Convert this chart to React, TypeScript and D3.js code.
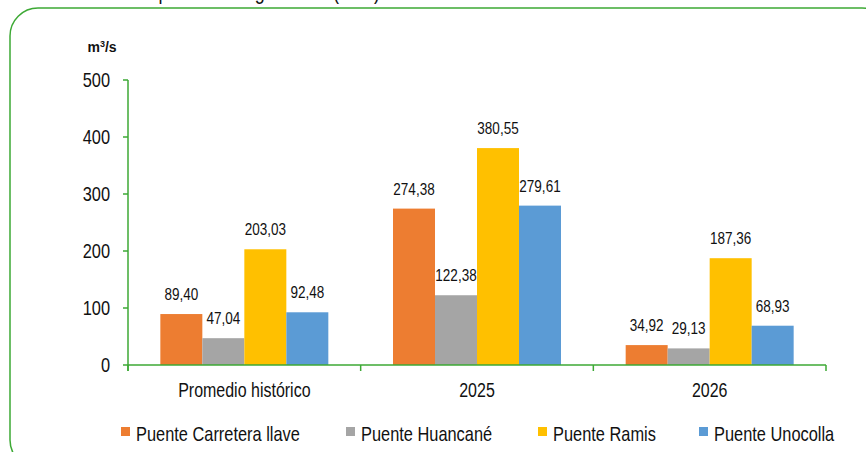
import React from 'react';
import * as d3 from 'd3';

const categories = ['Promedio histórico', '2025', '2026'];
const seriesNames = ['Puente Carretera llave', 'Puente Huancané', 'Puente Ramis', 'Puente Unocolla'];
const seriesColors = ['#ED7D31', '#A5A5A5', '#FFC000', '#5B9BD5'];
const carreteraIlave = [89.4, 274.38, 34.92];
const huancane = [47.04, 122.38, 29.13];
const ramis = [203.03, 380.55, 187.36];
const unocolla = [92.48, 279.61, 68.93];
const yTicks = [0, 100, 200, 300, 400, 500];

const values = [carreteraIlave, huancane, ramis, unocolla];

const W = 866;
const H = 452;
const green = '#3DA935';
const font = "'Liberation Sans', Arial, sans-serif";
const legendX = [121, 346, 538, 699];
const SQUEEZE = 0.82; // the reference uses a narrow face

const fmt = (v: number) => v.toFixed(2).replace('.', ',');

// narrow text: horizontal squeeze around its own anchor point
const NText: React.FC<{ x: number; y: number; size: number; anchor?: string; children: React.ReactNode }> = ({
  x,
  y,
  size,
  anchor = 'start',
  children,
}) => (
  <text
    transform={`translate(${x},${y}) scale(${SQUEEZE},1)`}
    textAnchor={anchor}
    fontSize={size}
    fill="#111"
  >
    {children}
  </text>
);

const App: React.FC = () => {
  const plot = { left: 128, right: 826, top: 80, bottom: 365 };

  const y = d3.scaleLinear().domain([0, 500]).range([plot.bottom, plot.top]);
  const x = d3.scaleBand<string>().domain(categories).range([plot.left, plot.right]).padding(0);
  const inner = d3
    .scaleBand<number>()
    .domain(d3.range(seriesNames.length))
    .range([0, x.bandwidth()])
    .paddingInner(0)
    .paddingOuter(0.77);

  const boundaries = [...categories.map(c => x(c) as number), plot.right];

  return (
    <div style={{ position: 'absolute', left: 0, top: 0 }}>
      <svg width={W} height={H} style={{ display: 'block', background: '#fff' }} fontFamily={font}>
        {/* title, mostly above the visible area as in the source */}
        <NText x={380} y={-1} size={22} anchor="end">
          Caudales promedio registrados (m³/s)
        </NText>

        {/* green frame */}
        <rect x={10} y={8} width={880} height={460} rx={28} ry={28} fill="none" stroke={green} strokeWidth={1.5} />

        <text x={102} y={52} textAnchor="middle" fontSize={14} fontWeight="bold" fill="#111">
          m<tspan dy={-5} fontSize={9}>3</tspan>
          <tspan dy={5}>/s</tspan>
        </text>

        {/* y axis */}
        <line x1={plot.left} x2={plot.left} y1={plot.top} y2={plot.bottom + 6} stroke={green} strokeWidth={1.5} />
        {yTicks.map(t => (
          <g key={t}>
            <line x1={plot.left - 5} x2={plot.left} y1={y(t)} y2={y(t)} stroke={green} strokeWidth={1.5} />
            <NText x={110} y={y(t) + 7} size={20} anchor="end">
              {t}
            </NText>
          </g>
        ))}

        {/* bars */}
        {categories.map((c, ci) =>
          values.map((s, si) => {
            const bx = (x(c) as number) + (inner(si) as number);
            const bw = inner.bandwidth();
            return (
              <g key={`${c}-${si}`}>
                <rect x={bx} y={y(s[ci])} width={bw} height={plot.bottom - y(s[ci])} fill={seriesColors[si]} />
                <NText x={bx + bw / 2} y={y(s[ci]) - 14} size={16.5} anchor="middle">
                  {fmt(s[ci])}
                </NText>
              </g>
            );
          })
        )}

        {/* x axis */}
        <line x1={plot.left} x2={plot.right} y1={plot.bottom} y2={plot.bottom} stroke={green} strokeWidth={1.5} />
        {boundaries.map((b, i) => (
          <line key={i} x1={b} x2={b} y1={plot.bottom} y2={plot.bottom + 6} stroke={green} strokeWidth={1.5} />
        ))}
        {categories.map(c => (
          <NText key={c} x={(x(c) as number) + x.bandwidth() / 2} y={397} size={19.5} anchor="middle">
            {c}
          </NText>
        ))}

        {/* legend */}
        {seriesNames.map((n, i) => (
          <g key={n}>
            <rect x={legendX[i]} y={427} width={9} height={9} fill={seriesColors[i]} />
            <NText x={legendX[i] + 15} y={441} size={20}>
              {n}
            </NText>
          </g>
        ))}
      </svg>
    </div>
  );
};

export default App;
